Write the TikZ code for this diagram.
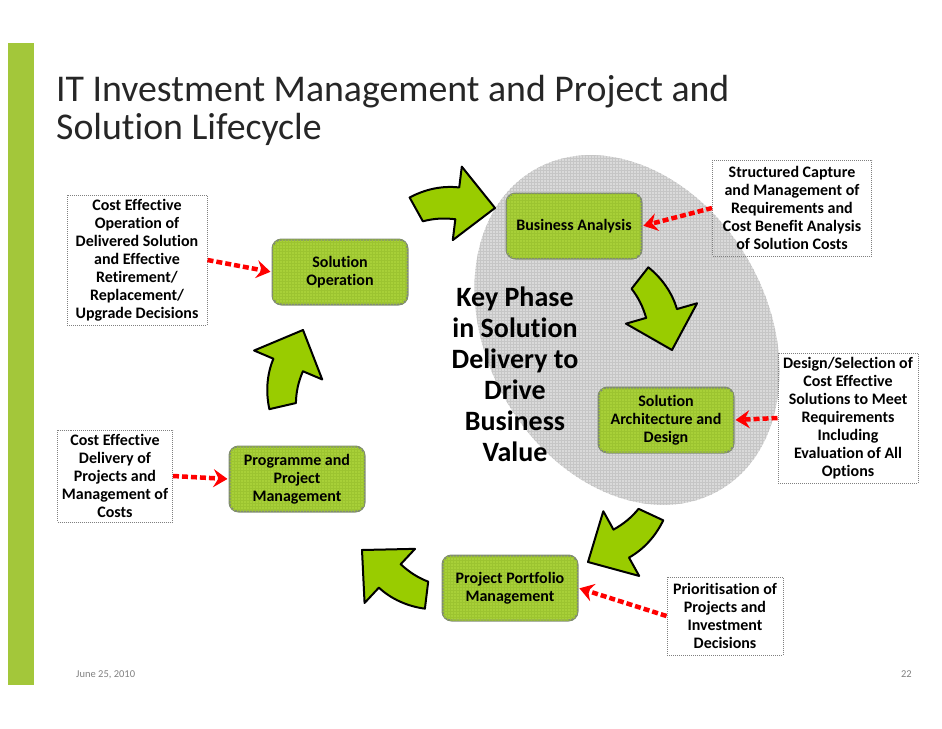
\documentclass[tikz,border=0pt]{standalone}
\usepackage{fontspec}
\setmainfont[Ligatures=NoCommon]{Carlito}
\usetikzlibrary{arrows.meta,patterns}

\definecolor{barGreen}{RGB}{163,199,58}
\definecolor{phaseGreen}{RGB}{168,208,56}
\definecolor{gridGreen}{RGB}{156,196,48}
\definecolor{phaseEdge}{RGB}{128,140,112}
\definecolor{arrowGreen}{RGB}{153,204,0}
\definecolor{ellGray}{RGB}{218,218,218}
\definecolor{gridGray}{RGB}{198,198,198}

\begin{document}
\begin{tikzpicture}[x=1pt,y=-1pt]
	\tikzstyle{phase} = [rounded corners=9pt, draw=phaseEdge, line width=2pt, fill=phaseGreen, postaction={pattern=grid, pattern color=gridGreen}, minimum width=135pt, minimum height=65pt, align=center, font=\bfseries\fontsize{16}{18}\selectfont]
	\tikzstyle{note} = [draw=gray, densely dotted, line width=1pt, inner sep=2pt, align=center, font=\bfseries\fontsize{16}{18}\selectfont]
	\tikzstyle{link} = [draw=red, line width=4.5pt, dash pattern=on 6pt off 3pt, shorten >=1pt, -{Stealth[length=14pt,width=18pt,inset=5pt]}]
	\tikzstyle{bigarrow} = [draw=black, line width=2pt, fill=arrowGreen, line join=round]
	\def\arrowshape{(0,0) -- (-38,-37) -- (-38,-16) .. controls (-55,-16) and (-72,-10) .. (-86,0) -- (-70,22) .. controls (-60,18) and (-50,16) .. (-38,16) -- (-38,37) -- cycle}

	\useasboundingbox (0,0) rectangle (942,728);
	\fill[barGreen] (8,43) rectangle (34,685);

	%title
	\node[anchor=base west, inner sep=0, font=\fontsize{37.8}{40}\selectfont, text=black!85] (title) at (56,101) {IT Investment Management and Project and};
	\node[anchor=base west, inner sep=0, font=\fontsize{37.8}{40}\selectfont, text=black!85] (subtitle) at (56,139) {Solution Lifecycle};

	%key phase
	\fill[ellGray, rotate around={-60:(627,330)}] (627,330) ellipse (185 and 140);
	\path[pattern=grid, pattern color=gridGray, rotate around={-60:(627,330)}] (627,330) ellipse (185 and 140);
	\node[align=center, font=\bfseries\fontsize{28}{31}\selectfont] (keyphase) at (515,374) {Key Phase\\in Solution\\Delivery to\\Drive\\Business\\Value};

	\foreach \x/\y/\a in {495/208/-7, 672/350/-74, 588/562/-151, 362/550/137, 303/330/67}
		\draw[bigarrow, shift={(\x,\y)}, rotate=\a] \arrowshape;

	\foreach \name/\x/\y/\txt in {ba/574/226/{Business Analysis}, so/340/272/{Solution\\Operation}, sad/666/420/{Solution\\Architecture and\\Design}, ppm/297/479/{Programme and\\Project\\Management}, portfolio/510/588/{Project Portfolio\\Management}}
		\node[phase] (\name) at (\x,\y) {\txt};

	%notes
	\node[note, minimum width=159pt, minimum height=96pt] (n_req) at (792,208) {Structured Capture\\and Management of\\Requirements and\\Cost Benefit Analysis\\of Solution Costs};
	\node[note, minimum width=140pt, minimum height=130pt] (n_ops) at (137,260) {Cost Effective\\Operation of\\Delivered Solution\\and Effective\\Retirement/\\Replacement/\\Upgrade Decisions};
	\node[note, minimum width=140pt, minimum height=130pt] (n_design) at (848,418) {Design/Selection of\\Cost Effective\\Solutions to Meet\\Requirements\\Including\\Evaluation of All\\Options};
	\node[note, minimum width=115pt, minimum height=92pt] (n_delivery) at (115,476) {Cost Effective\\Delivery of\\Projects and\\Management of\\Costs};
	\node[note, minimum width=116pt, minimum height=78pt] (n_priority) at (725,616) {Prioritisation of\\Projects and\\Investment\\Decisions};

	\foreach \from/\to in {n_req.west/ba.east, n_ops.east/so.west, n_design.west/sad.east, n_delivery.east/ppm.west, n_priority.west/portfolio.east}
		\draw[link] (\from) -- (\to);

	%footer
	\node[anchor=base west, inner sep=0, font=\fontsize{10.5}{12}\selectfont, text=gray] (date) at (76,677) {June 25, 2010};
	\node[anchor=base east, inner sep=0, font=\fontsize{10.5}{12}\selectfont, text=gray] (page) at (912,677) {22};
\end{tikzpicture}
\end{document}
